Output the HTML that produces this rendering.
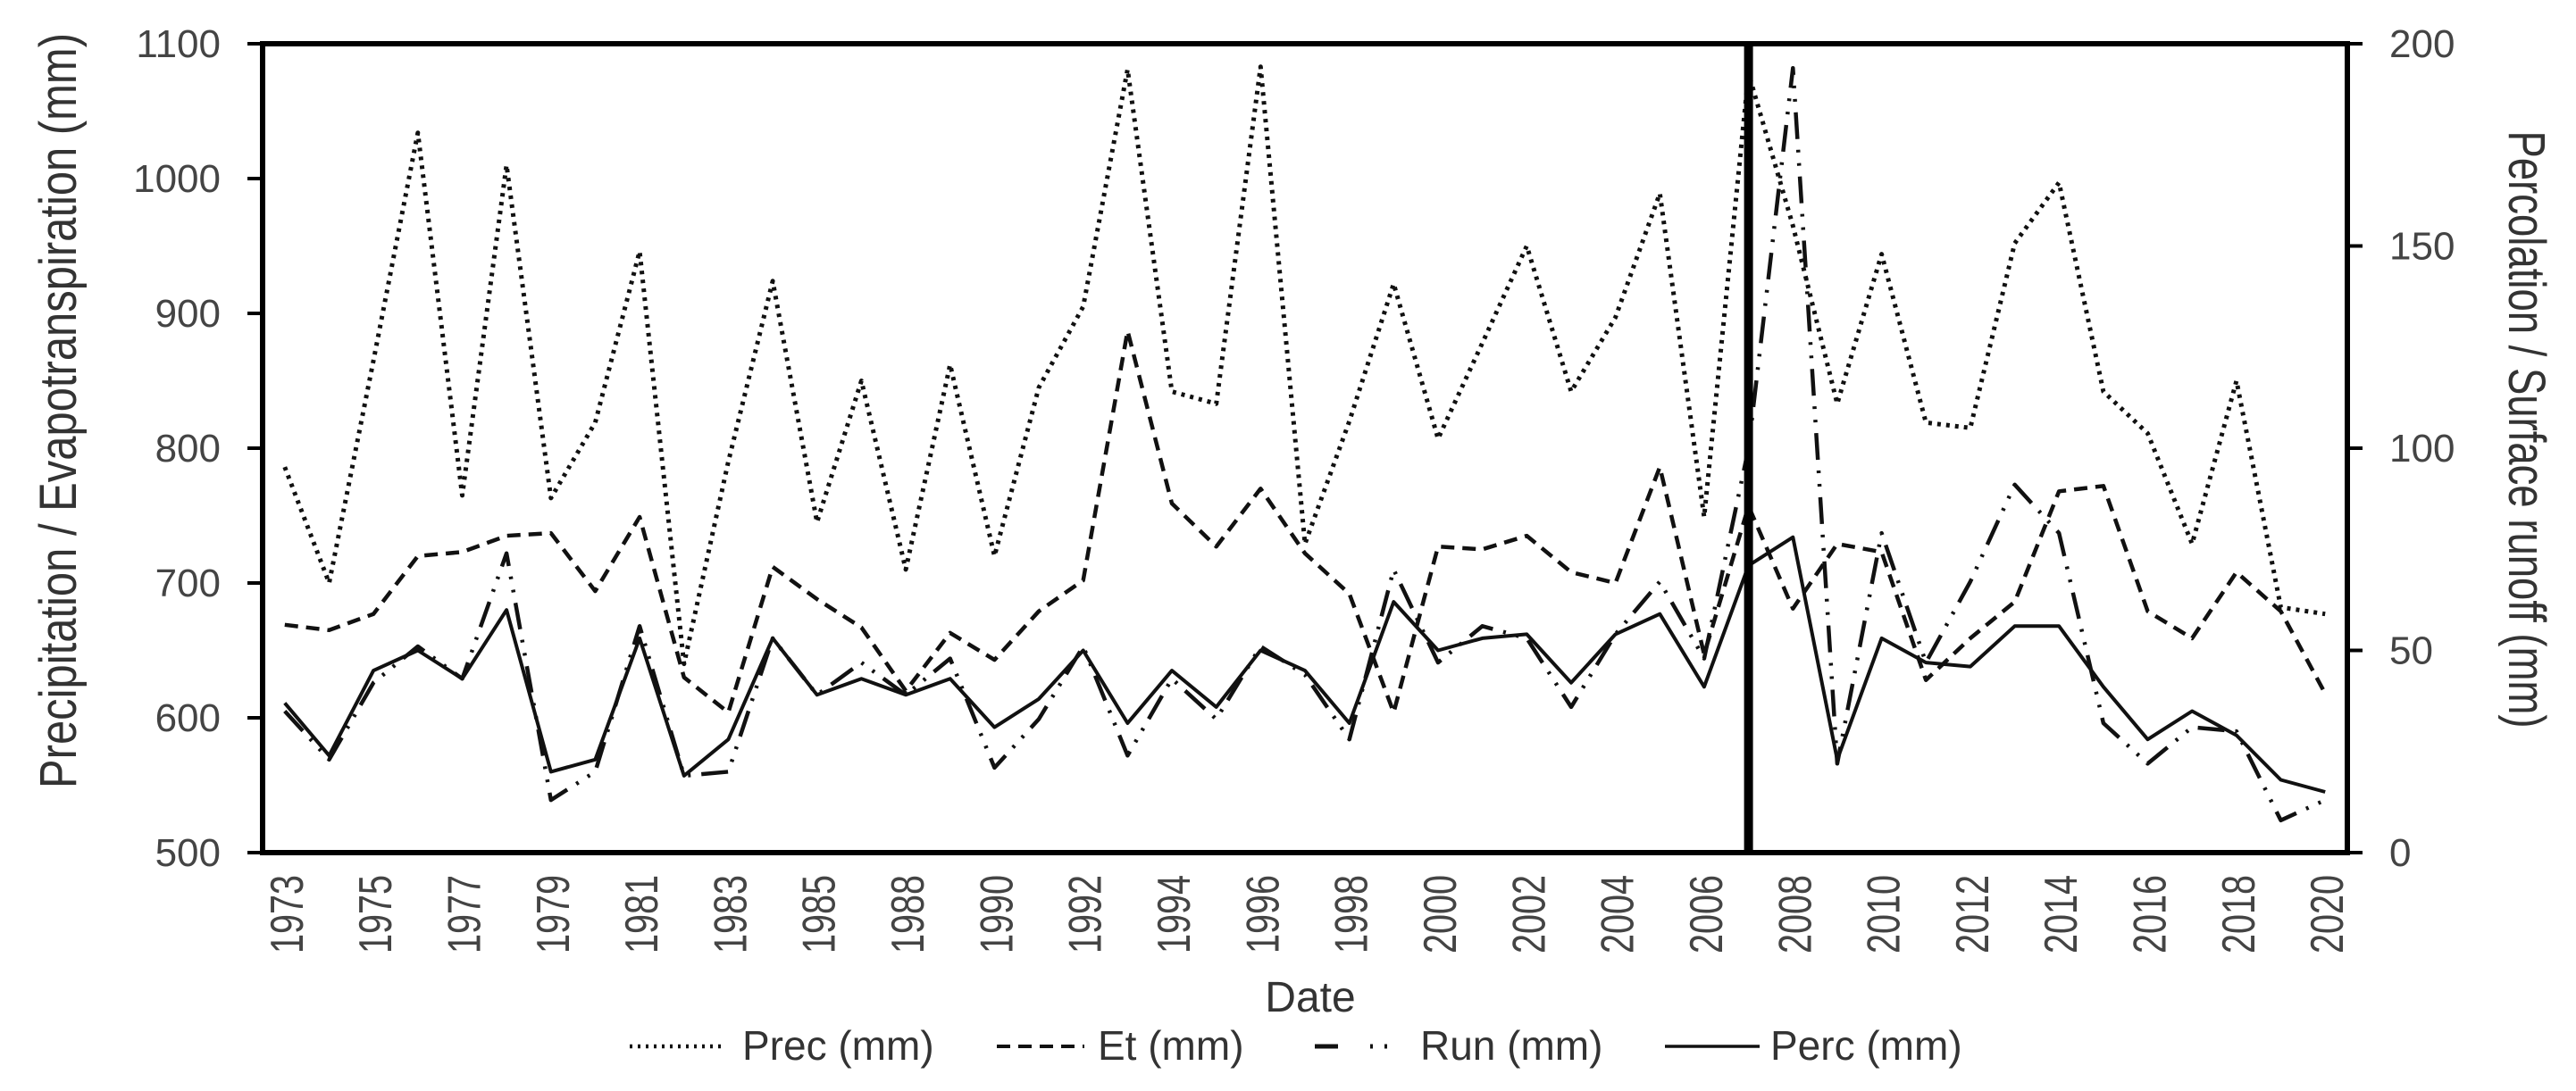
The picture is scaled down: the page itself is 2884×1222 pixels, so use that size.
<!DOCTYPE html>
<html><head><meta charset="utf-8"><style>
html,body{margin:0;padding:0;background:#fff;}
svg{display:block;font-family:"Liberation Sans",Arial,sans-serif;}
</style></head><body>
<svg id="chart" width="2884" height="1222" viewBox="0 0 2884 1222" xmlns="http://www.w3.org/2000/svg">
<rect x="0" y="0" width="2884" height="1222" fill="#fff"/>
<g id="marks"></g>
<g id="axes"></g>
</svg>
<script>
const years = [1973,1974,1975,1976,1977,1978,1979,1980,1981,1982,1983,1984,1985,1986,1988,1989,1990,1991,1992,1993,1994,1995,1996,1997,1998,1999,2000,2001,2002,2003,2004,2005,2006,2007,2008,2009,2010,2011,2012,2013,2014,2015,2016,2017,2018,2019,2020];
const precValues = [786,700,865,1034,765,1010,763,819,946,640,790,924,745,850,710,862,720,845,905,1081,842,833,1083,729,820,922,807,878,950,842,897,989,749,1078,965,833,944,819,815,952,997,842,811,729,850,682,677];
const etValues = [669,665,677,720,723,735,737,694,749,630,604,712,688,667,620,663,643,679,702,887,759,727,770,722,692,604,727,725,735,708,700,786,647,757,681,729,723,628,659,686,768,772,679,659,708,679,618];
const runValues = [35,23,42,51,43,74,13,20,56,19,20,53,39,47,39,48,21,33,51,24,43,33,51,44,28,70,47,56,53,36,54,67,48,100,194,22,79,47,67,91,79,32,22,31,30,8,13];
const percValues = [37,24,45,50,43,60,20,23,53,19,28,53,39,43,39,43,31,38,50,32,45,36,50,45,32,62,50,53,54,42,54,59,41,71,78,23,53,47,46,56,56,41,28,35,29,18,15];
const leftTicks = [500,600,700,800,900,1000,1100];
const rightTicks = [0,50,100,150,200];
const markerYear = 2007;

const NS = "http://www.w3.org/2000/svg";
const L = 294, R = 2628, T = 49, B = 955;
const bw = (R - L) / years.length;
function xPos(i){ return L + bw * (i + 0.5); }
function yLeft(v){ return B - (v - 500) / 600 * (B - T); }
function yRight(v){ return B - v / 200 * (B - T); }
function el(tag, attrs, parent){
  const e = document.createElementNS(NS, tag);
  for (const k in attrs) e.setAttribute(k, attrs[k]);
  parent.appendChild(e); return e;
}
const marks = document.getElementById('marks');
const axes = document.getElementById('axes');

function series(vals, yf, name, dash, w){
  const pts = vals.map((v,i)=> xPos(i).toFixed(1)+','+yf(v).toFixed(1)).join(' ');
  const p = el('polyline', {points: pts, fill:'none', stroke:'#111', 'stroke-width': w, 'stroke-dasharray': dash, 'stroke-linejoin':'round'}, marks);
  
  
}
series(precValues, yLeft, 'prec-line', '4 6', 5);
series(etValues, yLeft, 'et-line', '15 9', 4.5);
series(runValues, yRight, 'run-line', '30 12 3 12 3 12', 4.5);
series(percValues, yRight, 'perc-line', 'none', 4);

const frame = el('rect', {x:L, y:T, width:R-L, height:B-T, fill:'none', stroke:'#000', 'stroke-width':6}, axes);



const mi = years.indexOf(markerYear);
const vl = el('line', {x1:xPos(mi), x2:xPos(mi), y1:T, y2:B, stroke:'#000', 'stroke-width':10}, axes);



leftTicks.forEach(v=>{
  const y = yLeft(v);
  const t = el('line', {x1:L-17, x2:L, y1:y, y2:y, stroke:'#000', 'stroke-width':4}, axes);
  
  
  const tx = el('text', {x:247, y:y+15, 'text-anchor':'end', 'font-size':44, fill:'#444'}, axes);
  tx.textContent = v;
  
  
});
rightTicks.forEach(v=>{
  const y = yRight(v);
  const t = el('line', {x1:R, x2:R+17, y1:y, y2:y, stroke:'#000', 'stroke-width':4}, axes);
  
  
  const tx = el('text', {x:2675, y:y+15, 'text-anchor':'start', 'font-size':44, fill:'#444'}, axes);
  tx.textContent = v;
  
  
});
years.forEach((yr,i)=>{
  if (i % 2) return;
  const x = xPos(i) + 20, y = 980;
  const tx = el('text', {x:x, y:y, transform:`rotate(-90 ${x} ${y})`, 'text-anchor':'end', 'font-size':52, fill:'#444', textLength:88, lengthAdjust:'spacingAndGlyphs'}, axes);
  tx.textContent = yr;
  
  
});
</script>
<svg style="position:absolute;left:0;top:0" width="2884" height="1222" viewBox="0 0 2884 1222" xmlns="http://www.w3.org/2000/svg">
<text x="85" y="460" transform="rotate(-90 85 460)" text-anchor="middle" font-size="58" fill="#333" textLength="846" lengthAdjust="spacingAndGlyphs">Precipitation / Evapotranspiration (mm)</text>
<text x="2809" y="481" transform="rotate(90 2809 481)" text-anchor="middle" font-size="58" fill="#333" textLength="669" lengthAdjust="spacingAndGlyphs">Percolation / Surface runoff  (mm)</text>
<text x="1467" y="1133" text-anchor="middle" font-size="48" fill="#333">Date</text>
<g font-size="46" fill="#333">
<g>
<line x1="705" x2="809" y1="1172" y2="1172" stroke="#111" stroke-width="4.5" stroke-dasharray="3 6"/>
<text x="831" y="1187">Prec (mm)</text></g>
<g>
<line x1="1116" x2="1214" y1="1172" y2="1172" stroke="#111" stroke-width="4" stroke-dasharray="15 9"/>
<text x="1229" y="1187">Et (mm)</text></g>
<g>
<line x1="1472" x2="1558" y1="1172" y2="1172" stroke="#111" stroke-width="5" stroke-dasharray="26 36 3 13 3 40"/>
<text x="1590" y="1187">Run (mm)</text></g>
<g>
<line x1="1864" x2="1970" y1="1172" y2="1172" stroke="#111" stroke-width="3.5"/>
<text x="1982" y="1187">Perc (mm)</text></g>
</g>
</svg>
</body></html>
